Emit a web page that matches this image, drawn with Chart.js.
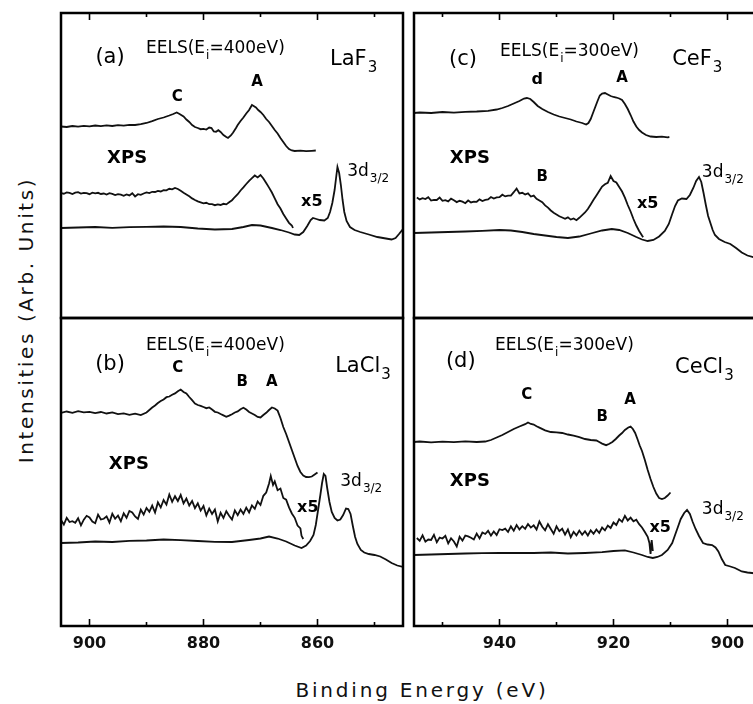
<!DOCTYPE html>
<html>
<head>
<meta charset="utf-8">
<script src="https://cdn.jsdelivr.net/npm/chart.js@4.4.1/dist/chart.umd.min.js"></script>
<style>
  html, body { margin: 0; padding: 0; width: 753px; height: 704px; overflow: hidden; background: #fff; }
  canvas { position: absolute; }
  .title { position: absolute; font-family: 'DejaVu Sans', sans-serif; color: #111; white-space: nowrap; }
  #y-title { left: 26px; top: 320px; font-size: 20px; letter-spacing: 2.6px; transform: translate(-50%, -50%) rotate(-90deg); }
  #x-title { left: 422px; top: 690px; font-size: 20px; letter-spacing: 2.8px; transform: translate(-50%, -50%); }
</style>
</head>
<body>
<canvas id="panel-a" width="354" height="317" style="left:55px; top:7px"></canvas>
<canvas id="panel-c" width="354" height="317" style="left:408px; top:7px"></canvas>
<canvas id="panel-b" width="354" height="354" style="left:55px; top:312px"></canvas>
<canvas id="panel-d" width="354" height="354" style="left:408px; top:312px"></canvas>
<div class="title" id="y-title">Intensities (Arb. Units)</div>
<div class="title" id="x-title">Binding Energy (eV)</div>
<script>
const leftTicks = [850, 860, 870, 880, 890, 900];
const rightTicks = [900, 910, 920, 930, 940, 950];

// (a) LaF3
const laF3Eels = [[905,191.5],[904,191],[903,192],[902,191.3],[901,192.2],[900,191.6],[899,192.5],[898,191.8],[897,192.6],[896,192],[895,192.8],[894,192.3],[893,193.2],[892,193],[891,193.8],[890,195],[889,196.8],[888,199],[887,200.5],[886,202.5],[885.3,204],[884.7,205.5],[884.2,204],[883.5,201.5],[883,198.5],[882.5,196],[882,193],[881.5,191],[881,190],[880.5,188.8],[880,189.2],[879.5,188.5],[879,190.5],[878.6,190],[878.2,186.5],[877.8,186.2],[877.4,187.8],[877,186],[876.5,183],[876,181],[875.7,180],[875.2,182.5],[874.8,185.5],[874.3,190],[874,193],[873.5,197],[873,200.5],[872.5,204.5],[872,208],[871.5,213],[871.2,212],[870.8,210.5],[870.4,208],[870,206],[869.5,203],[869,199],[868.5,196],[868,192],[867.5,188],[867,184.5],[866.5,180],[866,176],[865.5,172],[865,169],[864.5,167.5],[864,167],[863,167.3],[862,166.8],[861,167.2],[860.3,167.5]];
const laF3Xps5 = [[905,125],[904.5,124.3],[904,125.6],[903.5,125.1],[903,124],[902.5,125.4],[902,125.8],[901.5,124.5],[901,125.2],[900.5,124.9],[900,123.8],[899.5,125.3],[899,124.6],[898.5,125.2],[898,124],[897.5,124.5],[897,123.4],[896.5,124.8],[896,124.2],[895.5,123],[895,123.9],[894.5,123.3],[894,122.2],[893.5,123.5],[893,122.6],[892.5,124.8],[892,121.6],[891.5,123.8],[891,123.2],[890.5,124.5],[890,125.6],[889.5,124.9],[889,126.2],[888.5,126],[888,127.1],[887.5,126.5],[887,127.9],[886.5,127.6],[886,129.2],[885.5,128.6],[885,130],[884.5,129],[884,127.2],[883.5,125.3],[883,123.6],[882.5,121.8],[882,119.6],[881.5,118],[881,116.6],[880.5,115.6],[880,114.6],[879.5,115.2],[879,113.8],[878.5,113.9],[878,112.8],[877.5,113.6],[877,113],[876.5,114.2],[876,113.6],[875.5,115.8],[875,117.8],[874.5,121],[874,123.8],[873.5,127.5],[873,130.6],[872.5,134],[872,137.2],[871.5,139.8],[871,142.5],[870.5,140.6],[870,143],[869.5,139.5],[869,135],[868.5,130.4],[868,125.5],[867.5,119.6],[867,113.8],[866.5,109.5],[866,104],[865.5,99.6],[865,95.2],[864.5,92.5],[864.3,90]];
const laF3Xps = [[905,90],[902,90.5],[899,91],[896,90.2],[893,90.8],[890,91.2],[887,91.5],[884,91],[881,89.5],[878,88.5],[875,89],[873,91],[871.5,93],[870,92.5],[868,90],[866.5,88],[865,85.5],[864,83.5],[863.2,83],[862.5,86],[861.8,92],[861.2,98],[860.8,100],[860.2,99],[859.6,98],[858.8,97.5],[858.2,100],[857.8,106],[857.4,115],[857,128],[856.7,142],[856.5,151],[856.2,145],[855.9,133],[855.6,118],[855.3,106],[854.9,97],[854.3,91],[853.5,88],[852.5,86],[851,83.5],[849.5,81],[848,79.5],[847,78.5],[846.3,80],[845.7,84],[845,89]];

// (b) LaCl3
const laCl3Eels = [[905,213],[904,214.5],[903,213.2],[902,214.8],[901,213.6],[900,214.2],[899,212.8],[898,214],[897,212.5],[896,213.6],[895,211.8],[894,212.6],[893,211.2],[892,212.4],[891,211],[890,213.5],[889,218.5],[888.5,220.5],[888,223],[887.5,225],[887,226.5],[886.5,228.8],[886,229.5],[885.5,231.2],[885,232.6],[884.5,234.8],[884,236.5],[883.5,234],[883,232.5],[882.5,229],[882,225.8],[881.5,222.5],[881,221],[880.5,220.2],[880,219],[879.5,217.8],[879,218.5],[878.5,216.5],[878,214.2],[877.5,213.5],[877,212],[876.5,210.6],[876,209.2],[875.5,210.4],[875,211.8],[874.5,213.5],[874,214.6],[873.5,216.8],[873,218.2],[872.5,216.4],[872,214],[871.5,212.5],[871,211],[870.5,209],[870,208.5],[869.5,211],[869,213.2],[868.5,216],[868,218.5],[867.5,217.5],[867,215.4],[866.5,208],[866,199],[865.5,192],[865,184],[864.5,176],[864,168],[863.5,160],[863,154],[862.5,150.5],[862,149],[861.5,148.8],[861,149.5],[860.5,151.5],[860,153.5]];
const laCl3Xps5 = [[905,106],[904.5,101.5],[904,108.2],[903.5,104],[903,104.8],[902.5,103.2],[902,107.8],[901.5,100.6],[901,106.4],[900.5,110.2],[900,108.6],[899.5,104.5],[899,102.8],[898.5,111.4],[898,106.5],[897.5,107.2],[897,109.6],[896.5,103.5],[896,112.3],[895.5,107.2],[895,110.5],[894.5,104.8],[894,112.8],[893.5,108.2],[893,115],[892.5,113.6],[892,109.5],[891.5,107],[891,116.2],[890.5,111.5],[890,118],[889.5,114.2],[889,120.4],[888.5,113.5],[888,123.6],[887.5,118.5],[887,126],[886.5,121.4],[886,131.5],[885.5,124.2],[885,129.8],[884.5,125],[884,131],[883.5,122.6],[883,127.4],[882.5,120.5],[882,125],[881.5,117.8],[881,122.6],[880.5,115.4],[880,120],[879.5,110.6],[879,117.4],[878.5,112],[878,116.5],[877.5,104.5],[877,113.2],[876.5,108],[876,114.8],[875.5,110.3],[875,106.5],[874.5,115.6],[874,110.8],[873.5,116.5],[873,112.2],[872.5,118.4],[872,113.6],[871.5,120.5],[871,117.2],[870.5,124.5],[870,121],[869.5,130.2],[869,133.5],[868.5,142.6],[868.2,150],[867.8,141],[867.5,144.5],[867,135.8],[866.5,137.5],[866,128],[865.5,126.4],[865,118.6],[864.5,112.5],[864,108.2],[863.5,100.4],[863,97.6],[862.8,90.2],[862.5,87]];
const laCl3Xps = [[905,83],[902,83.5],[899,84.5],[896,84],[893,85.2],[890,85.5],[887,86.5],[884,85.8],[881,85],[878,84.2],[875,84],[872,86],[870,87.5],[868.5,89.5],[867,87.5],[865.5,84.5],[864,80.5],[862.8,78],[862,80.5],[861.3,85],[860.7,91],[860.3,101],[859.9,116],[859.5,131],[859.2,143],[858.9,152],[858.6,150],[858.3,138],[857.9,124],[857.5,114],[857,108],[856.5,105.5],[856,106.5],[855.5,111],[855,117.5],[854.6,117],[854.2,112],[853.8,100],[853.4,89],[853,82],[852.4,76],[851.8,73.5],[851,72],[850,71],[849,69.5],[848,66.5],[847,63],[846,60.5],[845,59]];

// (c) CeF3
const ceF3Eels = [[955,205],[954,205.5],[952,205],[950,206],[948,205.4],[946,206.2],[944,206.5],[942,207.2],[940.5,208.5],[939.5,210],[938.5,212],[937.5,214.5],[936.5,217],[935.7,219.5],[935.2,220],[934.6,219],[934,216],[933.3,212],[932.5,209],[931.5,206],[930.5,203.5],[929.5,201.5],[928.5,200],[927.5,198.5],[926.5,196.5],[925.5,195],[924.8,193.5],[924.4,195],[924,199],[923.6,205],[923.2,211],[922.8,217],[922.4,222.5],[922,224.5],[921.5,225],[921,223.5],[920.5,222],[920,221],[919.5,220.5],[919,219.5],[918.5,218],[918,214],[917.5,209],[917,203],[916.5,196.5],[916,191.5],[915.5,188],[915,185.5],[914.3,183],[913.5,181.5],[912.5,181],[911.5,181.3],[910.5,180.7],[910.2,181]];
const ceF3Xps5 = [[954.5,120.5],[954,118.6],[953.5,119.8],[953,119],[952.5,120.8],[952,117.5],[951.5,118.2],[951,118],[950.5,120.4],[950,117.2],[949.5,117.8],[949,116.6],[948.5,119.3],[948,117.8],[947.5,115.9],[947,117.2],[946.5,116.3],[946,114.8],[945.5,117.5],[945,115.6],[944.5,116.4],[944,116.2],[943.5,118.6],[943,117],[942.5,118.2],[942,118.5],[941.5,121],[941,119.4],[940.5,120.6],[940,120.8],[939.5,123.3],[939,121.6],[938.5,122.4],[938,122.5],[937.5,125.8],[937,129.5],[936.5,124.6],[936,125.2],[935.5,123.4],[935,124.6],[934.5,121.5],[934,122.4],[933.5,119.2],[933,117.6],[932.5,115.8],[932,112.6],[931.5,110.4],[931,107.5],[930.5,105.2],[930,103.6],[929.5,101.8],[929,100.5],[928.5,99.2],[928,100.6],[927.5,98.4],[927,99.5],[926.5,97.8],[926,100.2],[925.5,102.8],[925,105.5],[924.5,109],[924,113.5],[923.5,118.2],[923,122.5],[922.5,127],[922,131.5],[921.5,133.8],[921,135.2],[920.5,142],[920,137],[919.5,135.5],[919,131],[918.5,126.5],[918,120.4],[917.5,113],[917,106.5],[916.5,99],[916,92.5],[915.5,87],[915,82.5],[914.8,80.8]];
const ceF3Xps = [[955,85],[952,85.5],[949,86],[946,86.5],[943,87.2],[940,88],[938,87.5],[936,86],[934,84],[932,82.5],[930,81],[928,80],[926,81.5],[924,84.5],[922,87.5],[920.3,89],[919,88],[917.5,85],[916,81],[915,78.5],[914,77],[913,78],[912,81.5],[911,87],[910.3,94],[909.7,104],[909.2,112],[908.7,117.5],[908,119.5],[907.2,119],[906.6,123],[906,130],[905.5,137],[905,141],[904.6,136],[904.2,125],[903.8,113],[903.4,102],[903,95],[902.6,88],[902.2,83],[901.5,79],[900.5,76],[899.5,74],[898.5,70],[897.5,65.5],[896.5,62.5],[895.5,61],[895,60.5]];

// (d) CeCl3
const ceCl3Eels = [[955,184],[954,184.5],[952,183.7],[950,184.4],[948,183.8],[946,184.6],[944,184],[942.5,184.5],[941.5,186],[940.5,188.5],[939.5,191],[938.5,194],[937.5,197],[936.5,199.5],[935.5,201.8],[935,203.5],[934.5,202],[934,201.5],[933.5,199.8],[933,198.4],[932,195.6],[931,194],[930,193.6],[929,193],[928,191.5],[927,190.4],[926,188.8],[925,187],[924,186],[923,185.5],[922.5,184],[922,182.4],[921.3,180.8],[920.8,182],[920.2,184],[919.6,187],[919,190.5],[918.5,193],[918,196],[917.4,198.5],[917,199.5],[916.6,197],[916.2,193],[915.8,187],[915.4,180.5],[915,175],[914.5,166],[914,156],[913.5,147],[913,139],[912.5,132.5],[912,128],[911.5,127],[911,128],[910.5,130.5],[910,133.5]];
const ceCl3Xps5 = [[954.5,88],[954,85.2],[953.5,90.6],[953,84.4],[952.5,86.5],[952,86],[951.5,91.2],[951,83.8],[950.5,88.4],[950,87.5],[949.5,90.2],[949,82.6],[948.5,87.8],[948,84.5],[947.5,79.5],[947,89.2],[946.5,85.4],[946,90.5],[945.5,89.6],[945,88.2],[944.5,86.5],[944,92.4],[943.5,87.6],[943,93.5],[942.5,92],[942,95.2],[941.5,90.4],[941,94.5],[940.5,91],[940,96.8],[939.5,96],[939,97.4],[938.5,94],[938,99.6],[937.5,95.2],[937,101],[936.5,96.6],[936,99.8],[935.5,97.2],[935,102],[934.5,98.4],[934,100.6],[933.5,96.5],[933,104.5],[932.5,99.2],[932,95.6],[931.5,101.8],[931,97],[930.5,92.2],[930,99.6],[929.5,94.8],[929,97.2],[928.5,91.4],[928,96.5],[927.5,88.8],[927,94.2],[926.5,90.6],[926,95.4],[925.5,91.2],[925,94.8],[924.5,90.5],[924,95.6],[923.5,92.2],[923,96.5],[922.5,93],[922,98.4],[921.5,95.6],[921,100.4],[920.5,98],[920,103.5],[919.5,101],[919,106.8],[918.5,104.2],[918,110.2],[917.5,105.5],[917,108.4],[916.5,104.6],[916,106.2],[915.5,101.8],[915,98.5],[914.5,94],[914,89.2],[913.7,83],[913.5,72],[913.3,86],[913.1,75]];
const ceCl3Xps = [[955,71],[952,71.5],[949,72],[946,72.5],[943,72.8],[940,73],[937,73.2],[934,73],[931,73.5],[928,72.5],[925,73],[922,73.8],[920,75],[918,75.6],[916.5,73.5],[915,71],[914,69],[913.1,68],[912.3,69],[911.5,71],[910.5,76],[909.7,83],[909.2,91],[908.7,99],[908.2,107],[907.6,113],[907.1,116],[906.6,112],[906.1,104],[905.6,97],[905,90],[904.3,83],[903.5,81.5],[902.7,81],[902.1,78.5],[901.6,74.5],[901,67],[900.4,61],[899.5,59.5],[898.7,58],[898,56],[897.5,54.5],[896.5,53.5],[895.7,53],[895,52.5]];

// text labels, placed in data units
const notesA = [
    {x: 896.4, y: 260, t: '(a)', size: 21, align: 'center'},
    {x: 890.1, y: 269, t: 'EELS(E', sub: 'i', rest: '=400eV)', size: 17},
    {x: 857.8, y: 258, t: 'LaF', sub: '3', size: 21},
    {x: 884.6, y: 221, t: 'C', size: 15, bold: true, align: 'center'},
    {x: 870.6, y: 236, t: 'A', size: 15, bold: true, align: 'center'},
    {x: 893.4, y: 160, t: 'XPS', size: 18, bold: true, align: 'center'},
    {x: 861.0, y: 116, t: 'x5', size: 16, bold: true, align: 'center'},
    {x: 854.8, y: 146, t: '3d', sub: '3/2', size: 17}
];
const notesB = [
    {x: 896.4, y: 261, t: '(b)', size: 21, align: 'center'},
    {x: 890.1, y: 280, t: 'EELS(E', sub: 'i', rest: '=400eV)', size: 17},
    {x: 856.9, y: 259, t: 'LaCl', sub: '3', size: 21},
    {x: 884.5, y: 258, t: 'C', size: 15, bold: true, align: 'center'},
    {x: 873.2, y: 244, t: 'B', size: 15, bold: true, align: 'center'},
    {x: 868.0, y: 244, t: 'A', size: 15, bold: true, align: 'center'},
    {x: 893.1, y: 162, t: 'XPS', size: 18, bold: true, align: 'center'},
    {x: 861.7, y: 118, t: 'x5', size: 16, bold: true, align: 'center'},
    {x: 856.0, y: 144, t: '3d', sub: '3/2', size: 17}
];
const notesC = [
    {x: 946.4, y: 258, t: '(c)', size: 21, align: 'center'},
    {x: 939.9, y: 266, t: 'EELS(E', sub: 'i', rest: '=300eV)', size: 17},
    {x: 909.7, y: 258, t: 'CeF', sub: '3', size: 21},
    {x: 933.4, y: 238, t: 'd', size: 16, bold: true, align: 'center'},
    {x: 918.5, y: 240, t: 'A', size: 15, bold: true, align: 'center'},
    {x: 945.2, y: 160, t: 'XPS', size: 18, bold: true, align: 'center'},
    {x: 932.5, y: 141, t: 'B', size: 15, bold: true, align: 'center'},
    {x: 914.0, y: 114, t: 'x5', size: 16, bold: true, align: 'center'},
    {x: 904.5, y: 145, t: '3d', sub: '3/2', size: 17}
];
const notesD = [
    {x: 946.8, y: 264, t: '(d)', size: 21, align: 'center'},
    {x: 940.8, y: 280, t: 'EELS(E', sub: 'i', rest: '=300eV)', size: 17},
    {x: 909.2, y: 258, t: 'CeCl', sub: '3', size: 21},
    {x: 935.2, y: 231, t: 'C', size: 15, bold: true, align: 'center'},
    {x: 922.0, y: 209, t: 'B', size: 15, bold: true, align: 'center'},
    {x: 917.1, y: 226, t: 'A', size: 15, bold: true, align: 'center'},
    {x: 945.2, y: 145, t: 'XPS', size: 18, bold: true, align: 'center'},
    {x: 911.8, y: 98, t: 'x5', size: 16, bold: true, align: 'center'},
    {x: 904.5, y: 116, t: '3d', sub: '3/2', size: 17}
];

const FONT = "'DejaVu Sans', sans-serif";

const decorPlugin = {
    id: 'decor',
    afterDraw(chart, args, opts) {
        const ctx = chart.ctx;
        const area = chart.chartArea;
        const xs = chart.scales.x;
        const ys = chart.scales.y;
        ctx.save();
        ctx.strokeStyle = '#000';
        ctx.lineWidth = 2.5;
        ctx.strokeRect(area.left, area.top, area.right - area.left, area.bottom - area.top);

        ctx.lineWidth = 1.6;
        opts.ticks.forEach((v) => {
            const px = xs.getPixelForValue(v);
            const len = v % 20 === 0 ? 7 : 4;
            ctx.beginPath();
            if (opts.edge === 'top') {
                ctx.moveTo(px, area.top);
                ctx.lineTo(px, area.top + len);
            } else {
                ctx.moveTo(px, area.bottom);
                ctx.lineTo(px, area.bottom - len);
            }
            ctx.stroke();
        });

        ctx.fillStyle = '#000';
        ctx.textBaseline = 'middle';
        ctx.textAlign = 'left';
        opts.notes.forEach((n) => {
            const px = xs.getPixelForValue(n.x);
            const py = ys.getPixelForValue(n.y);
            const weight = n.bold ? 'bold ' : '';
            const mainFont = weight + n.size + 'px ' + FONT;
            const subFont = Math.round(n.size * 0.72) + 'px ' + FONT;
            ctx.font = mainFont;
            const w1 = ctx.measureText(n.t).width;
            let w2 = 0, w3 = 0;
            if (n.sub) { ctx.font = subFont; w2 = ctx.measureText(n.sub).width + 1; }
            if (n.rest) { ctx.font = mainFont; w3 = ctx.measureText(n.rest).width; }
            const x0 = n.align === 'center' ? px - (w1 + w2 + w3) / 2 : px;
            ctx.font = mainFont;
            ctx.fillText(n.t, x0, py);
            if (n.sub) {
                ctx.font = subFont;
                ctx.fillText(n.sub, x0 + w1 + 1, py + n.size * 0.38);
            }
            if (n.rest) {
                ctx.font = mainFont;
                ctx.fillText(n.rest, x0 + w1 + w2, py);
            }
        });
        ctx.restore();
    }
};

function makePanel(id, p) {
    const ctx = document.getElementById(id).getContext('2d');
    return new Chart(ctx, {
        type: 'scatter',
        data: {
            datasets: p.series.map((s) => ({
                data: s.map((pt) => ({x: pt[0], y: pt[1]})),
                showLine: true,
                borderColor: '#111',
                borderWidth: 1.8,
                pointRadius: 0,
                tension: 0
            }))
        },
        options: {
            responsive: false,
            devicePixelRatio: 1,
            animation: false,
            events: [],
            layout: { padding: p.bottomAxis ? {left: 6, right: 6, top: 6, bottom: 0} : 6 },
            plugins: {
                legend: { display: false },
                tooltip: { enabled: false },
                decor: { ticks: p.ticks, edge: p.bottomAxis ? 'bottom' : 'top', notes: p.notes }
            },
            scales: {
                x: {
                    type: 'linear',
                    reverse: true,
                    min: p.xMin,
                    max: p.xMax,
                    display: p.bottomAxis,
                    grid: { display: false, drawTicks: false },
                    border: { display: false },
                    afterBuildTicks: (scale) => { scale.ticks = p.ticks.map((v) => ({value: v})); },
                    afterFit: (scale) => { if (p.bottomAxis) scale.height = 40; },
                    ticks: {
                        autoSkip: false,
                        maxRotation: 0,
                        padding: 8,
                        color: '#111',
                        font: { family: FONT, size: 16, weight: 'bold' },
                        callback: (v) => (v % 20 === 0 ? String(v) : '')
                    }
                },
                y: { min: 0, max: p.yMax, display: false }
            }
        },
        plugins: [decorPlugin]
    });
}

makePanel('panel-a', {series: [laF3Eels, laF3Xps5, laF3Xps], notes: notesA, ticks: leftTicks, xMin: 845, xMax: 905, yMax: 305, bottomAxis: false});
makePanel('panel-c', {series: [ceF3Eels, ceF3Xps5, ceF3Xps], notes: notesC, ticks: rightTicks, xMin: 895, xMax: 955, yMax: 305, bottomAxis: false});
makePanel('panel-b', {series: [laCl3Eels, laCl3Xps5, laCl3Xps], notes: notesB, ticks: leftTicks, xMin: 845, xMax: 905, yMax: 308, bottomAxis: true});
makePanel('panel-d', {series: [ceCl3Eels, ceCl3Xps5, ceCl3Xps], notes: notesD, ticks: rightTicks, xMin: 895, xMax: 955, yMax: 308, bottomAxis: true});
</script>
</body>
</html>
